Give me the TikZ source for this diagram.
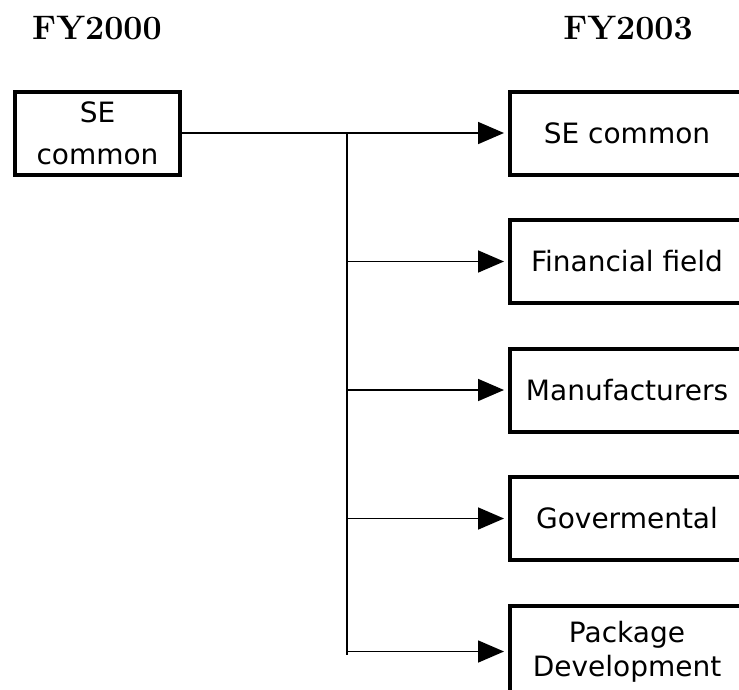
\documentclass[tikz,border=0pt]{standalone}
\usepackage{fontspec}
\newfontfamily\boxfont{DejaVu Sans}
\usepackage{tikz}
\usetikzlibrary{arrows.meta, positioning}
\tikzset{
    yearlabel/.style={font=\fontsize{34}{40}\selectfont\bfseries, inner sep=0pt},
    unitbox/.style={rectangle, draw=black, line width=4pt, minimum width=165pt, minimum height=83pt,
        text centered, align=center, font=\boxfont\fontsize{28}{42}\selectfont},
    fieldbox/.style={rectangle, draw=black, line width=4pt, minimum width=234pt, minimum height=83pt,
        text centered, align=center, font=\boxfont\fontsize{28}{34}\selectfont},
    feedline/.style={line width=1.7pt, black},
    feedarrow/.style={-{Triangle[length=26pt, width=22pt]}, line width=1.7pt, black, shorten >=4pt},
}

\begin{document}
\begin{tikzpicture}[x=1pt, y=-1pt]
    \useasboundingbox (0,0) rectangle (739,689);
    \clip (0,0) rectangle (739,689);

    \node[yearlabel] (y2000) at (97,28) {FY2000};
    \node[yearlabel] (y2003) at (628,28) {FY2003};

    \node[unitbox] (se2000) at (97.5,133) {SE\\common};

    \node[fieldbox] (se2003) at (627,133) {SE common};
    \node[fieldbox, below=41.5pt of se2003] (fin) {Financial field};
    \node[fieldbox, below=41.5pt of fin] (man) {Manufacturers};
    \node[fieldbox, below=41.5pt of man] (gov) {Govermental};
    \node[fieldbox, minimum height=92pt, below=41.5pt of gov] (pkg) {Package\\Development};

    \coordinate (split) at (347,133);
    \coordinate (tail) at (347,655);

    \draw[feedline] (se2000) -- (split);
    \draw[feedline] (split) -- (tail);
    \draw[feedarrow] (split) -- (se2003);
    \foreach \n in {fin, man, gov, pkg}
        \draw[feedarrow] (split |- \n.west) -- (\n.west);
\end{tikzpicture}
\end{document}
